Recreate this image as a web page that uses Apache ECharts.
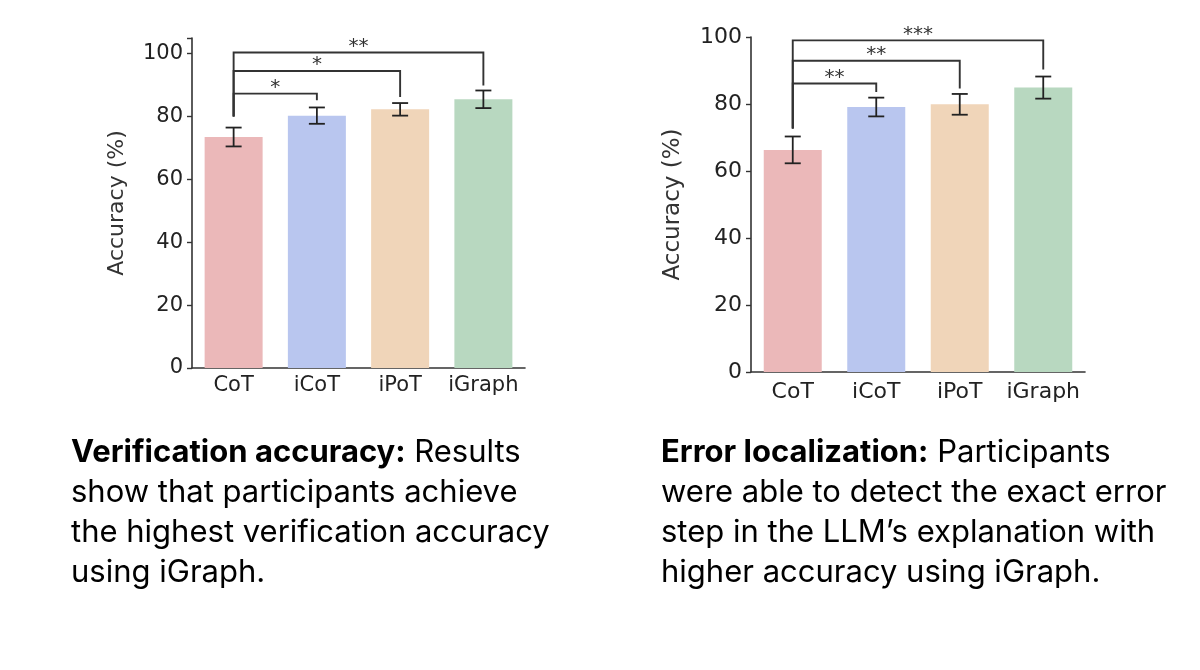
<!DOCTYPE html>
<html>
<head>
<meta charset="utf-8">
<title>Verification accuracy / Error localization</title>
<script src="https://cdn.jsdelivr.net/npm/echarts@6/dist/echarts.min.js"></script>
<style>
  html, body { margin: 0; padding: 0; background: #fff; }
  #chart { width: 1200px; height: 670px; }
</style>
</head>
<body>
<div id="chart"></div>
<script>
// categories
var cats = ['CoT', 'iCoT', 'iPoT', 'iGraph'];
var barColors = ['#ebb8b9', '#b9c6ef', '#f0d5b9', '#b8d8c0'];
var yTicks = [0, 20, 40, 60, 80, 100];

// verification accuracy (left)
var verifMean = [73.5, 80.3, 82.3, 85.5];
var verifErr = [3.0, 2.6, 2.0, 2.8];
var verifBase = 80;                       // top of CoT stem
var verifTo = [1, 2, 3];
var verifLevel = [87.3, 94.5, 100.4];
var verifEnd = [85.2, 86.2, 89.9];
var verifStars = ['*', '*', '**'];

// error localization (right)
var locMean = [66.3, 79.1, 79.9, 84.9];
var locErr = [4.0, 2.8, 3.1, 3.3];
var locBase = 72.7;
var locTo = [1, 2, 3];
var locLevel = [86.1, 92.9, 99.0];
var locEnd = [83.6, 84.6, 90.3];
var locStars = ['**', '**', '***'];

var ink = '#222';
var tickFont = 'DejaVu Sans';

var chart = echarts.init(document.getElementById('chart'));

// build helpers
var errData = function(mean, err){
    return mean.map(function(m, i){ return [i, m - err[i], m + err[i]]; });
};
var bracketData = function(base, to, level, end, stars){
    return to.map(function(t, i){ return [0, t, base, level[i], end[i], stars[i]]; });
};

var renderErr = function(params, api){
    var lo = api.coord([api.value(0), api.value(1)]);
    var hi = api.coord([api.value(0), api.value(2)]);
    var cap = 8;
    var st = { stroke: ink, lineWidth: 1.8 };
    return {
        type: 'group',
        children: [
            { type: 'line', shape: { x1: lo[0], y1: lo[1], x2: hi[0], y2: hi[1] }, style: st },
            { type: 'line', shape: { x1: lo[0] - cap, y1: lo[1], x2: lo[0] + cap, y2: lo[1] }, style: st },
            { type: 'line', shape: { x1: hi[0] - cap, y1: hi[1], x2: hi[0] + cap, y2: hi[1] }, style: st }
        ]
    };
};

var renderBracket = function(params, api){
    var a0 = api.coord([api.value(0), api.value(2)]);
    var a1 = api.coord([api.value(0), api.value(3)]);
    var b1 = api.coord([api.value(1), api.value(3)]);
    var b0 = api.coord([api.value(1), api.value(4)]);
    return {
        type: 'group',
        children: [
            { type: 'polyline', shape: { points: [a0, a1, b1, b0] }, style: { stroke: '#333', lineWidth: 1.9, fill: null } },
            { type: 'text', style: {
                text: api.value(5), x: (a1[0] + b1[0]) / 2, y: a1[1] + 4,
                textAlign: 'center', textVerticalAlign: 'bottom',
                fontFamily: tickFont, fontSize: 20, fill: '#333'
            } }
        ]
    };
};

var xAxisOf = function(idx, margin, size){
    return {
        gridIndex: idx, type: 'category', data: cats,
        axisLine: { lineStyle: { color: '#333', width: 1.6 } },
        axisTick: { alignWithLabel: true, length: 5, lineStyle: { color: '#333', width: 1.4 } },
        axisLabel: { interval: 0, color: ink, fontFamily: tickFont, fontSize: size, margin: margin }
    };
};
var yAxisOf = function(idx, max, size, gap){
    return {
        gridIndex: idx, type: 'value', min: 0, max: max, interval: 20,
        name: 'Accuracy (%)', nameLocation: 'middle', nameGap: gap,
        nameTextStyle: { color: '#333', fontFamily: tickFont, fontSize: size + 1 },
        splitLine: { show: false },
        axisLine: { show: true, lineStyle: { color: '#333', width: 1.6 } },
        axisTick: { show: true, length: 5, lineStyle: { color: '#333', width: 1.4 } },
        axisLabel: {
            color: ink, fontFamily: tickFont, fontSize: size, margin: 9,
            formatter: function(v){ return yTicks.indexOf(v) >= 0 ? String(v) : ''; }
        }
    };
};

var barSeries = function(idx, mean){
    return {
        type: 'bar', xAxisIndex: idx, yAxisIndex: idx, barWidth: 58,
        data: mean.map(function(v, i){ return { value: v, itemStyle: { color: barColors[i] } }; }),
        silent: true
    };
};

var captionStyle = function(text){
    return {
        text: text,
        fontFamily: 'Inter', fontSize: 31, lineHeight: 40, fill: '#000',
        rich: { b: { fontFamily: 'Inter', fontSize: 31, fontWeight: 'bold', lineHeight: 40, fill: '#000' } }
    };
};

chart.setOption({
    backgroundColor: '#fff',
    animation: false,
    grid: [
        { left: 192, width: 333, top: 38, bottom: 302 },
        { left: 751, width: 334, top: 37, bottom: 298 }
    ],
    xAxis: [xAxisOf(0, 7, 21), xAxisOf(1, 9, 22)],
    yAxis: [yAxisOf(0, 105, 21, 64), yAxisOf(1, 100, 22, 66)],
    series: [
        barSeries(0, verifMean),
        barSeries(1, locMean),
        { type: 'custom', xAxisIndex: 0, yAxisIndex: 0, renderItem: renderErr, data: errData(verifMean, verifErr), clip: false, z: 5 },
        { type: 'custom', xAxisIndex: 1, yAxisIndex: 1, renderItem: renderErr, data: errData(locMean, locErr), clip: false, z: 5 },
        { type: 'custom', xAxisIndex: 0, yAxisIndex: 0, renderItem: renderBracket, data: bracketData(verifBase, verifTo, verifLevel, verifEnd, verifStars), clip: false, z: 6 },
        { type: 'custom', xAxisIndex: 1, yAxisIndex: 1, renderItem: renderBracket, data: bracketData(locBase, locTo, locLevel, locEnd, locStars), clip: false, z: 6 }
    ],
    graphic: [
        {
            type: 'text', left: 71, top: 433,
            style: captionStyle('{b|Verification accuracy:} Results\nshow that participants achieve\nthe highest verification accuracy\nusing iGraph.')
        },
        {
            type: 'text', left: 661, top: 433,
            style: captionStyle('{b|Error localization:} Participants\nwere able to detect the exact error\nstep in the LLM\u2019s explanation with\nhigher accuracy using iGraph.')
        }
    ]
});
</script>
</body>
</html>
